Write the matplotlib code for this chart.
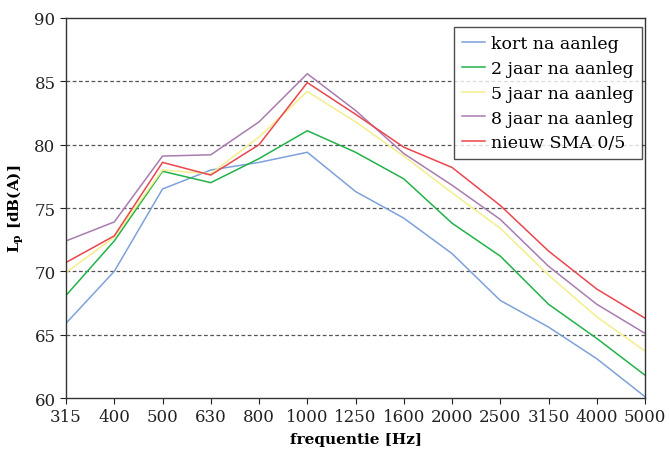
import matplotlib
matplotlib.use("Agg")
import matplotlib.pyplot as plt
import numpy as np

plt.rcParams['font.family'] = ['DejaVu Serif']
plt.rcParams['mathtext.fontset'] = 'dejavuserif'

# frequentie banden (Hz)
freqs = ['315', '400', '500', '630', '800', '1000', '1250', '1600',
         '2000', '2500', '3150', '4000', '5000']

# geluidniveau per serie
kort = [65.9, 70.0, 76.5, 78.0, 78.6, 79.4, 76.3, 74.2, 71.4, 67.7, 65.6, 63.1, 60.1]
jaar2 = [68.1, 72.4, 77.9, 77.0, 78.9, 81.1, 79.4, 77.3, 73.8, 71.2, 67.4, 64.7, 61.8]
jaar5 = [69.9, 72.7, 78.0, 77.7, 80.6, 84.2, 81.8, 79.1, 76.2, 73.4, 69.7, 66.4, 63.7]
jaar8 = [72.4, 73.9, 79.1, 79.2, 81.8, 85.6, 82.7, 79.3, 76.8, 74.1, 70.4, 67.4, 65.1]
sma = [70.7, 72.8, 78.6, 77.6, 80.0, 84.9, 82.4, 79.8, 78.2, 75.2, 71.6, 68.6, 66.3]

series = [
    ('kort na aanleg', kort, '#7ea1da'),
    ('2 jaar na aanleg', jaar2, '#22b24a'),
    ('5 jaar na aanleg', jaar5, '#f4ee8c'),
    ('8 jaar na aanleg', jaar8, '#a97cb0'),
    ('nieuw SMA 0/5', sma, '#e9464e'),
]

fig = plt.figure(figsize=(6.69, 4.6), dpi=100)
ax = fig.add_axes([0.0987, 0.1326, 0.8655, 0.8261])

x = np.arange(len(freqs))
for naam, waarden, kleur in series:
    ax.plot(x, waarden, color=kleur, lw=1.1, label=naam)

ax.set_xlim(0, len(freqs) - 1)
ax.set_ylim(60, 90)
ax.set_xticks(x)
ax.set_xticklabels(freqs)
ax.set_yticks(np.arange(60, 91, 5))
for yv in range(65, 90, 5):
    ax.axhline(yv, color='#555555', ls=(0, (3, 2)), lw=0.9, zorder=0)

ax.tick_params(labelsize=12, colors='#222222', length=4, width=0.8)
for s in ax.spines.values():
    s.set_color('#333333')
    s.set_linewidth(1.0)

ax.set_xlabel('frequentie [Hz]', fontsize=11, fontweight='bold', labelpad=5)
ax.set_ylabel(r'L$_\mathbf{p}$ [dB(A)]', fontsize=11, fontweight='bold', labelpad=6)

leg = ax.legend(loc='upper right', bbox_to_anchor=(0.9943, 0.9755), fontsize=12.5,
                frameon=True, fancybox=False, edgecolor='#222222',
                handlelength=1.35, borderpad=0.45, labelspacing=0.45,
                handletextpad=0.35, borderaxespad=0)
leg.get_frame().set_linewidth(1.0)

fig.savefig('out.png', dpi=100)
